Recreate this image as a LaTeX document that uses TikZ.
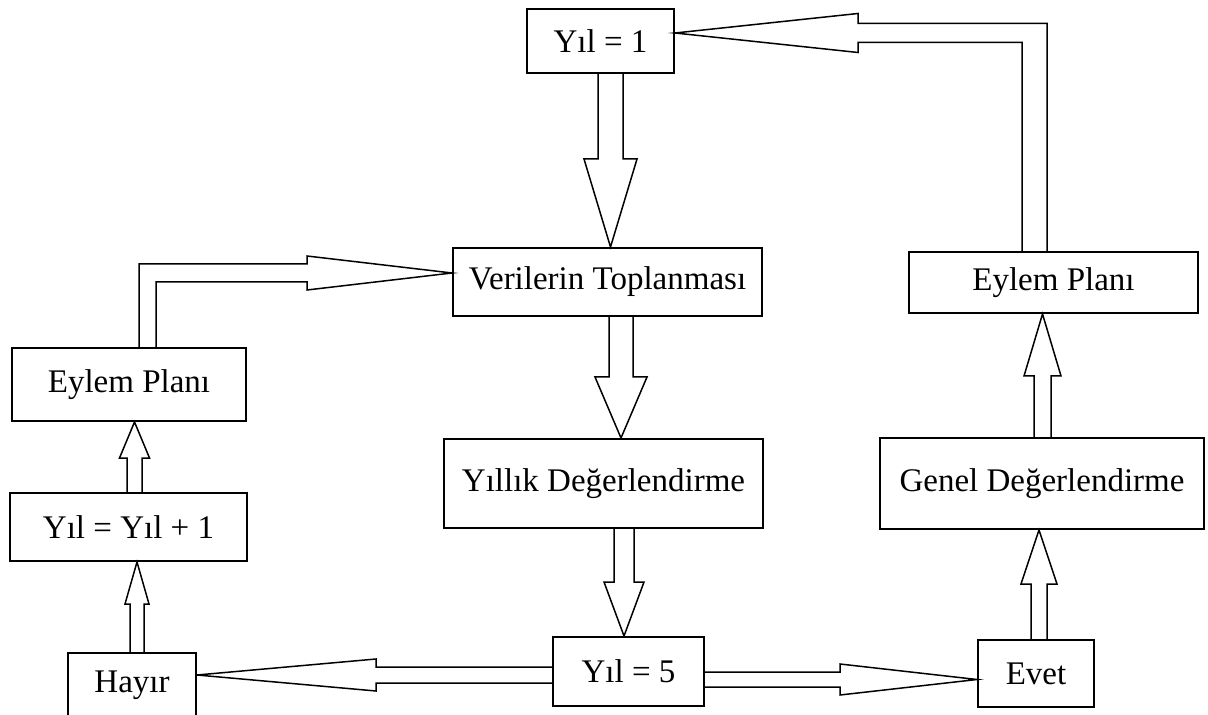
\documentclass[tikz,border=0pt]{standalone}
\usepackage{fontspec}
\setmainfont{Liberation Serif}
\usetikzlibrary{calc}

\begin{document}
\begin{tikzpicture}[x=0.5pt, y=-0.5pt,
  box/.style={draw, line width=1pt, inner sep=0pt, font=\fontsize{16.5}{19}\selectfont},
  blockarrow/.style n args={3}{line width=0.75pt, to path={
    ($(\tikztostart)!#1!90:(\tikztotarget)$)
    -- ($(\tikztotarget)!#3!(\tikztostart)!#1!-90:(\tikztostart)$)
    -- ($(\tikztotarget)!#3!(\tikztostart)!#2!-90:(\tikztostart)$)
    -- (\tikztotarget)
    -- ($(\tikztotarget)!#3!(\tikztostart)!#2!90:(\tikztostart)$)
    -- ($(\tikztotarget)!#3!(\tikztostart)!#1!90:(\tikztostart)$)
    -- ($(\tikztostart)!#1!-90:(\tikztotarget)$)}},
  elbow/.style={line width=0.75pt}]
\useasboundingbox (0,0) rectangle (1208,715);
\node (yil1) at (600.5,41) [box, minimum width=73.5pt, minimum height=32pt] {Yıl = 1};
\node (veri) at (607.5,282) [box, minimum width=154.5pt, minimum height=34pt] {Verilerin Toplanması};
\node (yillik) at (603.5,483.5) [box, minimum width=159.5pt, minimum height=44.5pt] {Yıllık Değerlendirme};
\node (yil5) at (628.5,671.5) [box, minimum width=75.5pt, minimum height=34.5pt] {Yıl = 5};
\node (hayir) at (132,685) [box, minimum width=64pt, minimum height=32pt] {Hayır};
\node (evet) at (1036,673.5) [box, minimum width=58pt, minimum height=33.5pt] {Evet};
\node (eylem1) at (129,384.5) [box, minimum width=117pt, minimum height=36.5pt] {Eylem Planı};
\node (yilart) at (128.5,527) [box, minimum width=118.5pt, minimum height=34pt] {Yıl = Yıl + 1};
\node (eylem2) at (1053.5,282.5) [box, minimum width=144.5pt, minimum height=30.5pt] {Eylem Planı};
\node (genel) at (1042,483.5) [box, minimum width=162pt, minimum height=45.5pt] {Genel Değerlendirme};
% straight block arrows
\coordinate (a1) at ($(yil1.south)+(10,0)$);
\coordinate (b1) at ($(veri.south)+(13.5,0)$);
\coordinate (c1) at ($(yillik.south)+(20.5,0)$);
\coordinate (d1) at ($(yil5.west)+(0,3.5)$);
\coordinate (e1) at ($(yil5.east)+(0,8)$);
\coordinate (f1) at ($(hayir.north)+(5,0)$);
\coordinate (g1) at ($(yilart.north)+(6,0)$);
\coordinate (i1) at ($(evet.north)+(3,0)$);
\coordinate (j1) at ($(genel.north)+(0.5,0)$);
\draw [blockarrow={6.25pt}{13.25pt}{44pt}] (a1) to (a1 |- veri.north);
\draw [blockarrow={6pt}{13pt}{30.5pt}] (b1) to (b1 |- yillik.north);
\draw [blockarrow={5pt}{10pt}{27pt}] (c1) to (c1 |- yil5.north);
\draw [blockarrow={4pt}{8pt}{89.5pt}] (d1) to (d1 -| hayir.east);
\draw [blockarrow={3.75pt}{7.75pt}{68.5pt}] (e1) to (e1 -| evet.west);
\draw [blockarrow={3.5pt}{6pt}{21pt}] (f1) to (f1 |- yilart.south);
\draw [blockarrow={3.75pt}{7.5pt}{18pt}] (g1) to (g1 |- eylem1.south);
\draw [blockarrow={4pt}{9pt}{27pt}] (i1) to (i1 |- genel.south);
\draw [blockarrow={4.25pt}{9.25pt}{31pt}] (j1) to (j1 |- eylem2.south);
% bent arrows
\coordinate (h1) at ($(eylem1.north)+(10,0)$);
\coordinate (h2) at ($(eylem1.north)+(27,0)$);
\coordinate (h3) at ($(veri.west)+(0,-9)$);
\draw [elbow] (h1) |- ($(h3)+(-145,-9)$) -- ($(h3)+(-145,-17)$) -- (h3) -- ($(h3)+(-145,17)$) -- ($(h3)+(-145,9)$) -| (h2);
\coordinate (k1) at ($(eylem2.north)+(-6.5,0)$);
\coordinate (k2) at ($(eylem2.north)+(-31.5,0)$);
\coordinate (k3) at ($(yil1.east)+(0,-8)$);
\draw [elbow] (k1) |- ($(k3)+(183,-9.5)$) -- ($(k3)+(183,-19.5)$) -- (k3) -- ($(k3)+(183,19.5)$) -- ($(k3)+(183,9.5)$) -| (k2);
\end{tikzpicture}
\end{document}
